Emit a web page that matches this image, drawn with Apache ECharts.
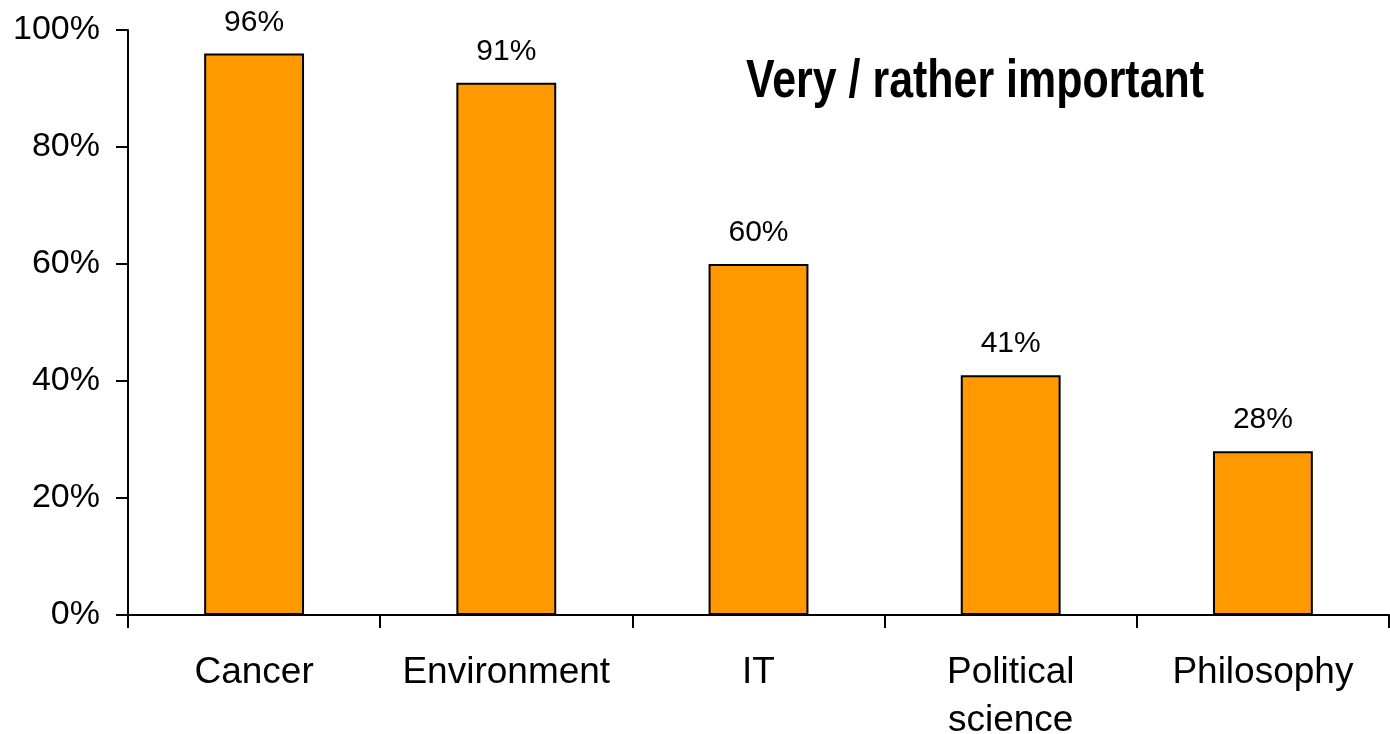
<!DOCTYPE html>
<html>
<head>
<meta charset="utf-8">
<script src="https://cdn.jsdelivr.net/npm/echarts@6/dist/echarts.min.js"></script>
<style>html,body{margin:0;padding:0;background:#fff;overflow:hidden}#c{width:1390px;height:734px}</style>
</head>
<body>
<div id="c"></div>
<script>
const categories = ['Cancer', 'Environment', 'IT', 'Political\nscience', 'Philosophy'];
const values = [96, 91, 60, 41, 28];
const yTicks = [0, 20, 40, 60, 80, 100];
const titleText = 'Very / rather important';

const chart = echarts.init(document.getElementById('c'));
chart.setOption({
  animation: false,
  backgroundColor: '#fff',
  graphic: [{
    type: 'text',
    x: 975, y: 82,
    scaleX: 0.81, scaleY: 1,
    style: {
      text: titleText,
      font: 'bold 53px "Liberation Sans", Arial, sans-serif',
      fill: '#000',
      align: 'center', verticalAlign: 'middle'
    }
  }],
  grid: { left: 128, right: 1, top: 30, bottom: 119, containLabel: false, outerBoundsMode: 'none' },
  xAxis: {
    type: 'category',
    data: categories,
    axisLine: { lineStyle: { color: '#000', width: 2 } },
    axisTick: { show: true, length: 13, inside: false, alignWithLabel: false, lineStyle: { color: '#000', width: 2 } },
    axisLabel: { margin: 34, fontFamily: '"Liberation Sans", Arial', fontSize: 37, color: '#000', lineHeight: 48, interval: 0 }
  },
  yAxis: {
    type: 'value',
    min: 0, max: 100, interval: 20,
    axisLine: { show: true, lineStyle: { color: '#000', width: 2 } },
    axisTick: { show: true, length: 12, lineStyle: { color: '#000', width: 2 } },
    splitLine: { show: false },
    axisLabel: {
      margin: 28, fontFamily: '"Liberation Sans", Arial', fontSize: 34, color: '#000',
      padding: [6, 0, 0, 0],
      formatter: v => (yTicks.includes(v) ? v + '%' : '')
    }
  },
  series: [{
    type: 'bar',
    data: values,
    barWidth: '39.6%',
    itemStyle: { color: '#FF9900', borderColor: '#000', borderWidth: 2 },
    label: {
      show: true, position: 'top', distance: 16,
      formatter: p => p.value + '%',
      fontFamily: '"Liberation Sans", Arial', fontSize: 30, color: '#000'
    }
  }]
});
</script>
</body>
</html>
